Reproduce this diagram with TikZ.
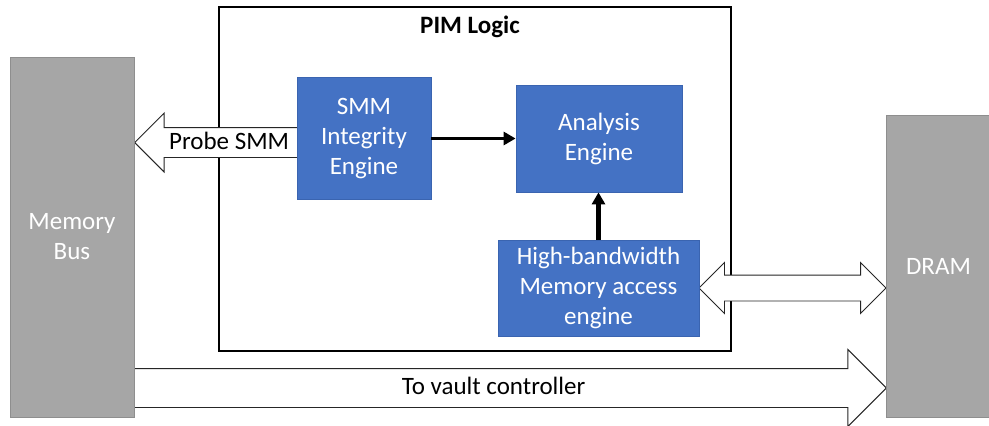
\documentclass[tikz,border=0pt]{standalone}
\usepackage{fontspec}
\setmainfont{Carlito}
\usepackage{tikz}
\usetikzlibrary{shapes.arrows,arrows.meta}
\definecolor{blu}{HTML}{4472C4}
\definecolor{bluedge}{HTML}{3A64B0}
\definecolor{gry}{HTML}{A6A6A6}
\definecolor{gryedge}{HTML}{8E8E8E}
\tikzset{
    engine/.style={fill=blu, draw=bluedge, line width=0.8, text=white,
        align=center, inner sep=0},
    unit/.style={fill=gry, draw=gryedge, line width=1, text=white,
        align=center, inner sep=0},
    blockarrow/.style={fill=white, draw=black!85, line width=0.9,
        inner xsep=1, text height=18, text depth=5, text=black},
    flow/.style={-{Triangle[length=12,width=13]}, line width=3}
}

\begin{document}
\begin{tikzpicture}[x=1pt, y=-1pt, font=\fontsize{25}{30}\selectfont]
        \useasboundingbox (0,0) rectangle (989,426);

        % the logic layer
        \node[draw, line width=2.6, minimum width=512, minimum height=344]
            (pim) at (475,179) {};
        \node[font=\bfseries\fontsize{25}{30}\selectfont] (pimtitle) at (470,27)
            {PIM Logic};

        % wide arrows, tails tucked under the boxes
        \node[blockarrow, single arrow, shape border rotate=180, anchor=tip,
            inner ysep=3, single arrow head extend=14.5,
            minimum height=174] (probe) at (134,142.5) {Probe SMM};
        \node[blockarrow, double arrow, text height=0, text depth=0,
            inner ysep=12.5, double arrow head extend=12.5, minimum height=187]
            (link) at (792.5,288) {};
        \node[blockarrow, single arrow, anchor=tip, inner ysep=7.5,
            single arrow head extend=19, minimum height=766]
            (vault) at (887,388) {To vault controller};

        % bus and memory
        \node[unit, minimum width=124, minimum height=360] (membus) at (72,237)
            {Memory\\Bus};
        \node[unit, minimum width=105, minimum height=302] (dram) at (938.5,266)
            {DRAM};

        % engines
        \node[engine, minimum width=134, minimum height=122] (smm) at (364,138.5)
            {SMM\\Integrity\\Engine};
        \node[engine, minimum width=166, minimum height=107] (ana) at (599,138.5)
            {Analysis\\Engine};
        \node[engine, minimum width=201, minimum height=96] (hbm) at (598.5,288)
            {High-bandwidth\\Memory access\\engine};

        \draw[flow] (smm.east) -- (smm.east -| ana.west);
        \draw[flow, line width=4.5] (hbm.north) -- (hbm.north |- ana.south);
\end{tikzpicture}
\end{document}
